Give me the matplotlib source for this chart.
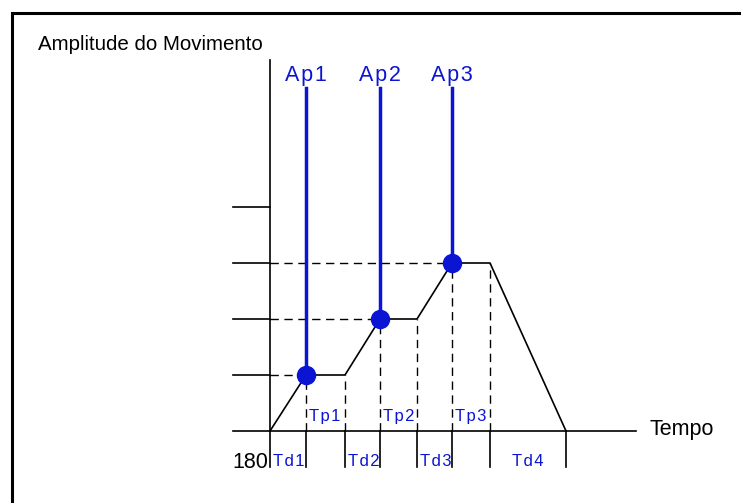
import matplotlib.pyplot as plt
from matplotlib.patches import Rectangle

plt.rcParams['font.family'] = ['Liberation Sans', 'DejaVu Sans']

# movement profile: time (arbitrary units) and amplitude levels
tempo = [0, 36, 75, 110, 147, 182, 220, 296]
amplitude = [0, 1, 1, 2, 2, 3, 3, 0]
niveis = [1, 2, 3, 4]

# peak points Ap1..Ap3
picos_t = [36, 110, 182]
picos_a = [1, 2, 3]
picos_lbl = ['Ap1', 'Ap2', 'Ap3']

# plateau phases (Tp) and displacement phases (Td)
tp_t = [(36, 75), (110, 147), (182, 220)]
tp_lbl = ['Tp1', 'Tp2', 'Tp3']
td_t = [(0, 36), (75, 110), (147, 182), (220, 296)]
td_lbl = ['Td1', 'Td2', 'Td3', 'Td4']
marcas = [0, 36, 75, 110, 147, 182, 220, 296]

AZUL = '#0a14d2'
dy = 56.0  # pixels per amplitude unit


def espacado(s):
    # loose letter spacing used in the blue labels
    return '\u200a'.join(s)


fig = plt.figure(figsize=(7.41, 5.03), dpi=100)
ax = fig.add_axes([0, 0, 1, 1])
ax.set_xlim(-270, 741 - 270)
ax.set_ylim(-72 / dy, 431 / dy)
ax.axis('off')

# outer frame
ax.add_patch(Rectangle((12 - 270, (431 - 600) / dy), 800, (600 - 13) / dy,
                       fill=False, lw=2.2, ec='black'))

# axes
ax.plot([0, 0], [-36 / dy, 371 / dy], color='black', lw=1.2)
ax.plot([-37, 366], [0, 0], color='black', lw=1.2)
for n in niveis:
    ax.plot([-37, 0], [n, n], color='black', lw=1.2)
for m in marcas[1:]:
    ax.plot([m, m], [0, -36 / dy], color='black', lw=1.2)

# dashed guides
for t, a in zip(picos_t, picos_a):
    ax.plot([0, t], [a, a], color='black', lw=1, ls=(0, (6, 4)))
for t, a in zip(tempo[1:-1], amplitude[1:-1]):
    ax.plot([t, t], [0, a], color='black', lw=1, ls=(0, (6, 4)))

# profile
ax.plot(tempo, amplitude, color='black', lw=1.2)

# peaks
for t, a, lbl in zip(picos_t, picos_a, picos_lbl):
    ax.plot([t, t], [a, 343 / dy], color=AZUL, lw=2.5)
    ax.plot(t, a, 'o', color=AZUL, ms=13)
    ax.text(t, 356 / dy, espacado(lbl), color=AZUL,
            fontsize=15.5, ha='center', va='center')

for (a, b), lbl in zip(tp_t, tp_lbl):
    ax.text(a + 3, 15 / dy, espacado(lbl), color=AZUL, fontsize=12,
            ha='left', va='center')
for (a, b), lbl in zip(td_t, td_lbl):
    x = a + 3 if b - a < 50 else (a + b) / 2
    ha = 'left' if b - a < 50 else 'center'
    ax.text(x, -30 / dy, espacado(lbl), color=AZUL, fontsize=12,
            ha=ha, va='center')

ax.text(-2, -31 / dy, '180', color='black', fontsize=15.5, ha='right', va='center')
ax.text(-232, 386 / dy, 'Amplitude do Movimento', color='black', fontsize=14.8,
        ha='left', va='center')
ax.text(380, 1 / dy, 'Tempo', color='black', fontsize=15.5, ha='left', va='center')

fig.savefig('out.png', dpi=100)
